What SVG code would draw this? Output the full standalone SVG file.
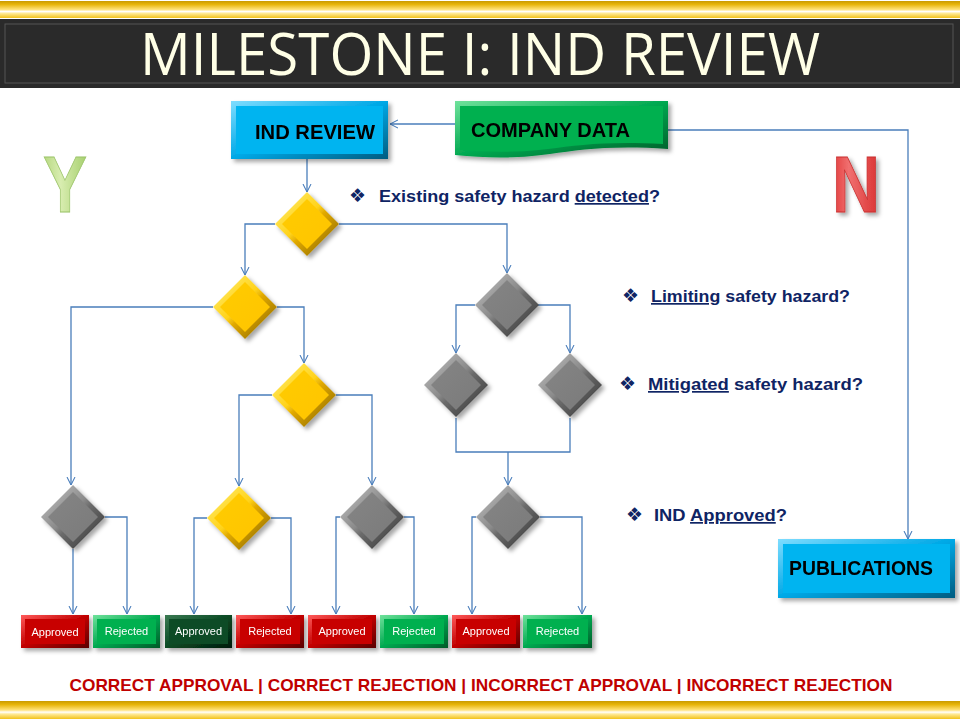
<svg xmlns="http://www.w3.org/2000/svg" xmlns:xlink="http://www.w3.org/1999/xlink" width="960" height="720" viewBox="0 0 960 720">
<style>
.conn{fill:none;stroke:#4A7EBB;stroke-width:1.3}
.arr{marker-end:url(#ah)}
.q{font-family:"Liberation Sans",Arial,sans-serif;font-weight:bold;font-size:17px;fill:#0F2464}
.bul{font-family:"DejaVu Sans",sans-serif;font-size:19px;fill:#0F2464}
.bt{font-family:"Liberation Sans",Arial,sans-serif;font-weight:bold;font-size:20px;fill:#000}
.small{font-family:"Liberation Sans",Arial,sans-serif;font-size:11px;fill:#fff;text-anchor:middle}
</style>
<defs>
<marker id="ah" viewBox="0 0 10 10" refX="10" refY="5" markerUnits="userSpaceOnUse" markerWidth="8" markerHeight="10" orient="auto">
<path d="M0,0 L10,5 L0,10" fill="none" stroke="#4A7EBB" stroke-width="1.3"/>
</marker>
<filter id="sh" x="-20%" y="-20%" width="150%" height="150%">
<feDropShadow dx="3" dy="3" stdDeviation="2" flood-color="#000" flood-opacity="0.35"/>
</filter>
<linearGradient id="gold" x1="0" y1="0" x2="0" y2="1">
<stop offset="0" stop-color="#C99A00"/>
<stop offset="0.2" stop-color="#E8B50A"/>
<stop offset="0.5" stop-color="#FFE27A"/>
<stop offset="0.62" stop-color="#FFFFFF"/>
<stop offset="0.72" stop-color="#FFEB99"/>
<stop offset="1" stop-color="#F2C21A"/>
</linearGradient>
<linearGradient id="yEdge" x1="0" y1="0" x2="1" y2="1">
<stop offset="0" stop-color="#FFF27A"/>
<stop offset="0.45" stop-color="#FFD21A"/>
<stop offset="0.55" stop-color="#E0A800"/>
<stop offset="1" stop-color="#7A5C00"/>
</linearGradient>
<linearGradient id="gEdge" x1="0" y1="0" x2="1" y2="1">
<stop offset="0" stop-color="#C8C8C8"/>
<stop offset="0.45" stop-color="#8A8A8A"/>
<stop offset="0.55" stop-color="#6A6A6A"/>
<stop offset="1" stop-color="#2E2E2E"/>
</linearGradient>
<linearGradient id="yIn" x1="0" y1="0" x2="1" y2="1">
<stop offset="0" stop-color="#FFCC00"/>
<stop offset="1" stop-color="#FFC400"/>
</linearGradient>
<linearGradient id="gIn" x1="0" y1="0" x2="1" y2="1">
<stop offset="0" stop-color="#858585"/>
<stop offset="1" stop-color="#7A7A7A"/>
</linearGradient>
<linearGradient id="cyanE" x1="0" y1="0" x2="1" y2="1">
<stop offset="0" stop-color="#7FDDFF"/>
<stop offset="0.5" stop-color="#00A8E6"/>
<stop offset="1" stop-color="#005C80"/>
</linearGradient>
<linearGradient id="greenE" x1="0" y1="0" x2="1" y2="1">
<stop offset="0" stop-color="#6FE29B"/>
<stop offset="0.5" stop-color="#00A850"/>
<stop offset="1" stop-color="#005A28"/>
</linearGradient>
<linearGradient id="redE" x1="0" y1="0" x2="1" y2="1">
<stop offset="0" stop-color="#FF5A5A"/>
<stop offset="0.5" stop-color="#C00000"/>
<stop offset="1" stop-color="#5A0000"/>
</linearGradient>
<linearGradient id="dgE" x1="0" y1="0" x2="1" y2="1">
<stop offset="0" stop-color="#3A7A52"/>
<stop offset="0.5" stop-color="#0A4A24"/>
<stop offset="1" stop-color="#021A0A"/>
</linearGradient>
<linearGradient id="yLetter" x1="0" y1="0" x2="1" y2="0">
<stop offset="0" stop-color="#B5D77F"/>
<stop offset="0.4" stop-color="#D8EDB0"/>
<stop offset="1" stop-color="#A6CF6E"/>
</linearGradient>
<linearGradient id="nLetter" x1="0" y1="0" x2="1" y2="0">
<stop offset="0" stop-color="#E23A3A"/>
<stop offset="0.35" stop-color="#F07070"/>
<stop offset="1" stop-color="#D93030"/>
</linearGradient>
<g id="yd">
<polygon points="0,-32 32,0 0,32 -32,0" fill="url(#yEdge)"/>
<polygon points="0,-25 25,0 0,25 -25,0" fill="url(#yIn)"/>
</g>
<g id="gd">
<polygon points="0,-32 32,0 0,32 -32,0" fill="url(#gEdge)"/>
<polygon points="0,-25 25,0 0,25 -25,0" fill="url(#gIn)"/>
</g>
</defs>

<rect width="960" height="720" fill="#FFFFFF"/>

<!-- header / footer bars -->
<rect x="0" y="1" width="960" height="17" fill="url(#gold)"/>
<rect x="0" y="19" width="960" height="69" fill="#2A2A2A"/>
<rect x="5" y="24" width="948" height="59" fill="none" stroke="#555" stroke-width="1"/>
<text x="480" y="75" text-anchor="middle" font-family="Open Sans,Liberation Sans,sans-serif" font-size="58" fill="#FFFFE6" textLength="680" lengthAdjust="spacingAndGlyphs">MILESTONE I: IND REVIEW</text>
<rect x="0" y="701" width="960" height="18" fill="url(#gold)"/>

<!-- Y / N -->
<text x="65" y="212" text-anchor="middle" font-family="Liberation Sans,Arial,sans-serif" font-weight="bold" font-size="80" fill="url(#yLetter)" stroke="#9CC46A" stroke-width="0.8" textLength="44" lengthAdjust="spacingAndGlyphs">Y</text>
<text x="856" y="212" text-anchor="middle" font-family="Liberation Sans,Arial,sans-serif" font-weight="bold" font-size="80" fill="url(#nLetter)" stroke="#C83030" stroke-width="0.8" textLength="48" lengthAdjust="spacingAndGlyphs" filter="url(#sh)">N</text>

<!-- connectors -->
<g id="connectors">
<path class="conn arr" d="M307,159 V192"/>
<path class="conn arr" d="M455,124 H390"/>
<path class="conn arr" d="M668,130 H908 V539"/>
<path class="conn arr" d="M275,224 H245 V275"/>
<path class="conn arr" d="M339,224 H507 V273"/>
<path class="conn arr" d="M213,307 H71 V485"/>
<path class="conn arr" d="M277,307 H304 V363"/>
<path class="conn arr" d="M272,395 H239 V486"/>
<path class="conn arr" d="M336,395 H372 V485"/>
<path class="conn arr" d="M475,305 H456 V353"/>
<path class="conn arr" d="M538,305 H570 V353"/>
<path class="conn" d="M456,418 V452 H570 V418"/>
<path class="conn arr" d="M508,452 V485"/>
<path class="conn arr" d="M73,549 V614"/>
<path class="conn arr" d="M105,517 H127 V614"/>
<path class="conn arr" d="M207,518 H194 V614"/>
<path class="conn arr" d="M271,518 H291 V614"/>
<path class="conn arr" d="M340,517 H336 V614"/>
<path class="conn arr" d="M404,517 H414 V614"/>
<path class="conn arr" d="M476,517 H472 V614"/>
<path class="conn arr" d="M540,517 H582 V614"/>
</g>

<!-- top boxes -->
<g id="ind-review" filter="url(#sh)">
<rect x="231" y="101" width="157" height="58" fill="url(#cyanE)"/>
<rect x="236" y="106" width="147" height="48" fill="#00B4F0"/>
<text class="bt" x="315" y="139" text-anchor="middle" textLength="120" lengthAdjust="spacingAndGlyphs">IND REVIEW</text>
</g>
<g id="company-data" filter="url(#sh)">
<path d="M455,101 H668 V149 C610,145 580,150 550,154 C515,159 485,158 455,155 Z" fill="url(#greenE)"/>
<path d="M460,106 H663 V144 C608,141 578,145 548,149 C515,153 487,152 460,150 Z" fill="#00B050"/>
<text class="bt" x="471" y="137" textLength="159" lengthAdjust="spacingAndGlyphs">COMPANY DATA</text>
</g>
<g id="publications" filter="url(#sh)">
<rect x="778" y="539" width="177" height="59" fill="url(#cyanE)"/>
<rect x="783" y="544" width="167" height="49" fill="#00B4F0"/>
<text class="bt" x="789" y="575" textLength="144" lengthAdjust="spacingAndGlyphs">PUBLICATIONS</text>
</g>

<!-- diamonds -->
<g id="d1" filter="url(#sh)"><use xlink:href="#yd" x="307" y="224"/></g>
<g id="d2" filter="url(#sh)"><use xlink:href="#yd" x="245" y="307"/></g>
<g id="d3" filter="url(#sh)"><use xlink:href="#yd" x="304" y="395"/></g>
<g id="d4" filter="url(#sh)"><use xlink:href="#yd" x="239" y="518"/></g>
<g id="g1" filter="url(#sh)"><use xlink:href="#gd" x="507" y="305"/></g>
<g id="g2" filter="url(#sh)"><use xlink:href="#gd" x="456" y="385"/></g>
<g id="g3" filter="url(#sh)"><use xlink:href="#gd" x="570" y="385"/></g>
<g id="g4" filter="url(#sh)"><use xlink:href="#gd" x="508" y="517"/></g>
<g id="g5" filter="url(#sh)"><use xlink:href="#gd" x="73" y="517"/></g>
<g id="g6" filter="url(#sh)"><use xlink:href="#gd" x="372" y="517"/></g>

<!-- outcome boxes -->
<g id="o1" filter="url(#sh)"><rect x="21" y="615" width="68" height="33" fill="url(#redE)"/><rect x="25" y="619" width="60" height="25" fill="#C80000"/><text class="small" x="55" y="636">Approved</text></g>
<g id="o2" filter="url(#sh)"><rect x="93" y="615" width="67" height="33" fill="url(#greenE)"/><rect x="97" y="619" width="59" height="25" fill="#00B050"/><text class="small" x="126.5" y="635">Rejected</text></g>
<g id="o3" filter="url(#sh)"><rect x="165" y="615" width="67" height="33" fill="url(#dgE)"/><rect x="169" y="619" width="59" height="25" fill="#0A4B25"/><text class="small" x="198.5" y="635">Approved</text></g>
<g id="o4" filter="url(#sh)"><rect x="236" y="615" width="68" height="33" fill="url(#redE)"/><rect x="240" y="619" width="60" height="25" fill="#C80000"/><text class="small" x="270" y="635">Rejected</text></g>
<g id="o5" filter="url(#sh)"><rect x="308" y="615" width="68" height="33" fill="url(#redE)"/><rect x="312" y="619" width="60" height="25" fill="#C80000"/><text class="small" x="342" y="635">Approved</text></g>
<g id="o6" filter="url(#sh)"><rect x="380" y="615" width="68" height="33" fill="url(#greenE)"/><rect x="384" y="619" width="60" height="25" fill="#00B050"/><text class="small" x="414" y="635">Rejected</text></g>
<g id="o7" filter="url(#sh)"><rect x="452" y="615" width="68" height="33" fill="url(#redE)"/><rect x="456" y="619" width="60" height="25" fill="#C80000"/><text class="small" x="486" y="635">Approved</text></g>
<g id="o8" filter="url(#sh)"><rect x="523" y="615" width="69" height="33" fill="url(#greenE)"/><rect x="527" y="619" width="61" height="25" fill="#00B050"/><text class="small" x="557.5" y="635">Rejected</text></g>

<!-- questions -->
<g id="questions">
<text class="bul" x="349" y="202">❖</text>
<text class="q" x="379" y="202" textLength="281" lengthAdjust="spacingAndGlyphs">Existing safety hazard <tspan text-decoration="underline">detected</tspan>?</text>
<text class="bul" x="622" y="302">❖</text>
<text class="q" x="651" y="302" textLength="199" lengthAdjust="spacingAndGlyphs"><tspan text-decoration="underline">Limiting</tspan> safety hazard?</text>
<text class="bul" x="619" y="390">❖</text>
<text class="q" x="648" y="390" textLength="215" lengthAdjust="spacingAndGlyphs"><tspan text-decoration="underline">Mitigated</tspan> safety hazard?</text>
<text class="bul" x="626" y="521">❖</text>
<text class="q" x="654" y="521" textLength="133" lengthAdjust="spacingAndGlyphs">IND <tspan text-decoration="underline">Approved</tspan>?</text>
</g>

<text x="481" y="691" text-anchor="middle" font-family="Liberation Sans,Arial,sans-serif" font-weight="bold" font-size="17" fill="#C00000" textLength="823" lengthAdjust="spacingAndGlyphs">CORRECT APPROVAL | CORRECT REJECTION | INCORRECT APPROVAL | INCORRECT REJECTION</text>
</svg>
